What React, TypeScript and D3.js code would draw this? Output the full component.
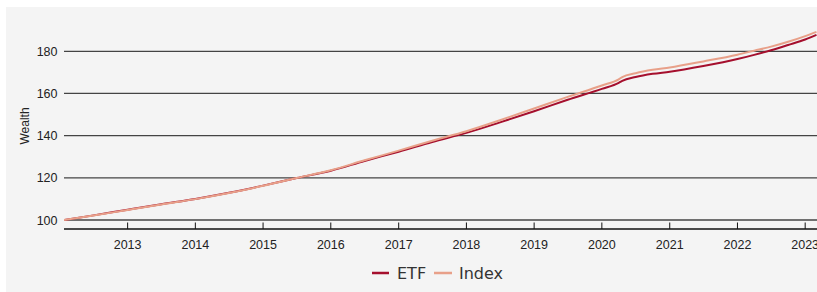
import React from "react";
import * as d3 from "d3";

const dates = [
  "2012-01-24", "2012-07-01", "2013-01-01", "2013-07-01", "2014-01-01", "2014-07-01",
  "2015-01-01", "2015-07-01", "2016-01-01", "2016-07-01", "2017-01-01", "2017-07-01",
  "2018-01-01", "2018-07-01", "2019-01-01", "2019-07-01", "2020-01-01", "2020-04-01",
  "2020-04-20", "2020-07-01", "2020-10-01", "2021-01-01", "2021-07-01", "2022-01-01",
  "2022-04-01", "2022-07-01", "2022-10-01", "2023-01-01", "2023-03-03",
];
const etfValues = [
  100.0, 102.2, 104.9, 107.5, 110.0, 112.9, 116.3, 119.9, 123.4, 128.0, 132.4, 137.0,
  141.3, 146.3, 151.6, 157.0, 162.2, 165.0, 166.0, 167.8, 169.3, 170.3, 173.0, 176.3,
  178.3, 180.5, 183.0, 185.6, 187.8,
];
const indexValues = [
  100.0, 102.1, 104.8, 107.4, 109.9, 112.8, 116.2, 119.9, 123.6, 128.3, 132.9, 137.6,
  142.1, 147.3, 152.9, 158.4, 163.8, 166.7, 167.8, 169.6, 171.2, 172.3, 175.2, 178.4,
  180.3, 182.2, 184.5, 187.2, 189.2,
];
const yTicks = [100, 120, 140, 160, 180];
const xTickYears = [2013, 2014, 2015, 2016, 2017, 2018, 2019, 2020, 2021, 2022, 2023];
const seriesNames = ["ETF", "Index"];
const seriesColors = ["#a50f2d", "#e8a089"];

export default function App() {
  const W = 817, H = 292;
  const left = 64, right = 817, top = 30, bottom = 229;
  const parsed = dates.map((d) => new Date(d + "T00:00:00Z"));
  const x = d3.scaleUtc().domain([parsed[0], parsed[parsed.length - 1]]).range([left, 816.5]);
  const y = d3.scaleLinear().domain([95.74, 190]).range([bottom, 30.2]);
  const line = d3
    .line<[Date, number]>()
    .x((d) => x(d[0]))
    .y((d) => y(d[1]))
    .curve(d3.curveMonotoneX);
  const series = [etfValues, indexValues].map((vals) =>
    parsed.map((d, i) => [d, vals[i]] as [Date, number])
  );
  const font = "'Liberation Sans', Arial, sans-serif";
  return (
    <svg
      width={W}
      height={H}
      style={{ position: "absolute", left: 0, top: 0 }}
      fontFamily={font}
    >
      <rect x={6} y={7} width={W - 6} height={H - 7} fill="#f4f4f4" />
      <defs>
        <clipPath id="plotclip">
          <rect x={left} y={top - 10} width={right - left} height={bottom - top + 10} />
        </clipPath>
      </defs>
      {yTicks.map((t) => (
        <g key={t}>
          <line x1={left} x2={right} y1={y(t)} y2={y(t)} stroke="#444" strokeWidth={1.3} />
          <text x={57.5} y={y(t)} dy="0.36em" textAnchor="end" fontSize={12.5} fill="#222">
            {t}
          </text>
        </g>
      ))}
      <line x1={left} x2={right} y1={bottom} y2={bottom} stroke="#111" strokeWidth={1.3} />
      {xTickYears.map((yr) => {
        const xv = x(new Date(Date.UTC(yr, 0, 1)));
        return (
          <g key={yr}>
            <line x1={xv} x2={xv} y1={bottom} y2={bottom - 6.5} stroke="#111" strokeWidth={1} />
            <text x={xv} y={249.3} textAnchor="middle" fontSize={12.5} fill="#222">
              {yr}
            </text>
          </g>
        );
      })}
      <text
        transform={`translate(28.5,126) rotate(-90)`}
        textAnchor="middle"
        fontSize={12}
        fill="#222"
      >
        Wealth
      </text>
      <g clipPath="url(#plotclip)">
        {series.map((s, i) => (
          <path
            key={seriesNames[i]}
            d={line(s) || ""}
            fill="none"
            stroke={seriesColors[i]}
            strokeWidth={2}
          />
        ))}
      </g>
      <g fontFamily="'DejaVu Sans', sans-serif" fontSize={16} fill="#333">
        <line x1={372} x2={389} y1={273} y2={273} stroke={seriesColors[0]} strokeWidth={2.5} />
        <text x={397} y={279}>{seriesNames[0]}</text>
        <line x1={434} x2={452} y1={273} y2={273} stroke={seriesColors[1]} strokeWidth={2.5} />
        <text x={459} y={279}>{seriesNames[1]}</text>
      </g>
    </svg>
  );
}
